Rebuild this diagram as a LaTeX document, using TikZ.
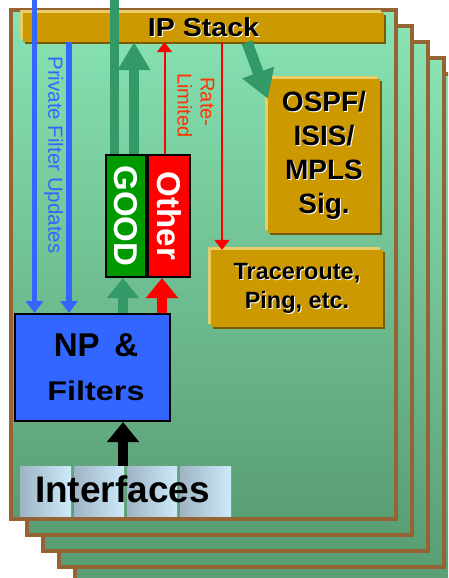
\documentclass[tikz,border=0pt]{standalone}
\usepackage{fontspec}
\usepackage{graphicx}
\setmainfont{Liberation Sans}
\usetikzlibrary{arrows.meta}
\definecolor{framebrown}{RGB}{150,100,52}
\definecolor{minttop}{RGB}{136,228,180}
\definecolor{mintbot}{RGB}{90,158,116}
\definecolor{gold}{RGB}{204,153,0}
\definecolor{goldlt}{RGB}{232,204,104}
\definecolor{golddk}{RGB}{120,90,0}
\definecolor{grn}{RGB}{51,153,102}
\definecolor{npblue}{RGB}{51,102,255}
\definecolor{goodgreen}{RGB}{0,153,0}
\definecolor{ratetext}{RGB}{255,51,0}
\definecolor{ifl}{RGB}{158,180,196}
\definecolor{ifr}{RGB}{204,234,250}
\newcommand\shd[1]{\leavevmode\rlap{\hspace{1pt}\raisebox{-1pt}{\color{white}#1}}#1}
\tikzset{
  frame/.style={draw=framebrown, line width=4pt, top color=minttop, bottom color=mintbot},
  goldbox/.style={fill=gold, inner sep=0pt, align=center, text=black,
    preaction={fill=goldlt, transform canvas={shift={(-3pt,3pt)}}},
    preaction={fill=golddk, transform canvas={shift={(2pt,-2pt)}}}},
  labelbox/.style={draw=black, line width=2pt, inner sep=0pt, text=white,
    font=\bfseries\fontsize{33}{33}\selectfont, minimum height=122pt},
  npbox/.style={draw=black, line width=2pt, fill=npblue, inner sep=0pt, align=center,
    minimum width=155pt, minimum height=107pt},
  tile/.style={left color=ifl, right color=ifr, inner sep=0pt, minimum height=50pt},
  fatup/.style={line width=10pt, -{Triangle[width=31pt,length=28pt]}},
  fatshort/.style={line width=10pt, -{Triangle[width=31pt,length=20pt]}},
  thinred/.style={draw=red, line width=2pt, -{Triangle[width=15pt,length=10pt]}},
  blueln/.style={draw=npblue, line width=5.5pt},
  bluearrow/.style={blueln, -{Triangle[width=17pt,length=12pt]}},
}
\begin{document}
\begin{tikzpicture}[x=1pt,y=-1pt]
\useasboundingbox (0,0) rectangle (448,578);
\clip (0,0) rectangle (448,578);
\fill[white] (0,0) rectangle (448,578);
% stacked frames
\foreach \k in {4,3,2,1,0}{
  \draw[frame] ({10.5+16*\k},{10+16*\k}) rectangle ++(385,508.5);
}
% helper coordinates
\coordinate (b1) at (34.5,-5);
\coordinate (b2) at (69,0);
\coordinate (gl) at (114.5,-5);
\coordinate (gu) at (134,0);
\coordinate (gx) at (123,0);
\coordinate (rx) at (162,0);
\coordinate (ro) at (164.5,0);
\coordinate (rt) at (222,0);
% boxes
\node[goldbox, minimum width=361pt, minimum height=29pt,
  font=\bfseries\fontsize{26}{30}\selectfont] (ip) at (203.5,27.5) {\shd{\scalebox{1.1}[1]{IP Stack}}};
\node[goldbox, minimum width=112pt, minimum height=154pt,
  font=\bfseries\fontsize{28}{34}\selectfont] (ospf) at (324,156)
  {\shd{OSPF/}\\\shd{ISIS/}\\\shd{MPLS}\\\shd{Sig.}};
\node[goldbox, minimum width=172pt, minimum height=77pt,
  font=\bfseries\fontsize{23.5}{29}\selectfont] (trace) at (297,288.5)
  {\shd{Traceroute,}\\\shd{Ping, etc.}};
\node[labelbox, fill=goodgreen, minimum width=40pt] (good) at (126,216) {\rotatebox{-90}{GOOD}};
\node[labelbox, fill=red, minimum width=42pt] (other) at (169,216) {\rotatebox{-90}{Other}};
\node[npbox, font=\bfseries\fontsize{33}{44}\selectfont] (np) at (92.5,367.5)
  {\hspace*{7pt}NP \,\&\\\hspace*{7pt}{\fontsize{27}{44}\selectfont\scalebox{1.2}[1]{Filters}}};
\node[tile, minimum width=51pt] (if1) at (45.5,491) {};
\node[tile, minimum width=50pt] (if2) at (99,491) {};
\node[tile, minimum width=50pt] (if3) at (152,491) {};
\node[tile, minimum width=51pt] (if4) at (205.5,491) {};
% connectors
\draw[bluearrow] (b1) -- (np.north -| b1);
\draw[bluearrow] (ip.south -| b2) -- (np.north -| b2);
\draw[draw=grn, line width=9pt] (good.north -| gl) -- (gl);
\draw[fatup, draw=grn] (good.north -| gu) -- (ip.south -| gu);
\draw[thinred] (other.north -| ro) -- (ip.south -| ro);
\draw[thinred] (ip.south -| rt) -- (trace.north -| rt);
\draw[draw=grn, line width=11pt, -{Triangle[width=32pt,length=28pt]}]
  ([xshift=43.5pt]ip.south) -- ([yshift=-20pt]ospf.north west);
\draw[fatshort, draw=grn] (np.north -| gx) -- (good.south -| gx);
\draw[fatshort, draw=red] (np.north -| rx) -- (other.south -| rx);
\draw[fatshort, draw=black] (if2.north -| gx) -- (np.south -| gx);
% texts
\node[anchor=base, inner sep=0pt, font=\bfseries\fontsize{37}{40}\selectfont] (iftext) at (122.5,502) {Interfaces};
\node[anchor=base, rotate=-90, inner sep=0pt, text=npblue, font=\fontsize{20.5}{24}\selectfont] (pfu) at (48.3,155) {Private Filter Updates};
\node[anchor=base, rotate=-90, inner sep=0pt, text=ratetext, font=\fontsize{20}{23}\selectfont] (rate) at (200.7,102) {Rate-};
\node[anchor=base, rotate=-90, inner sep=0pt, text=ratetext, font=\fontsize{20}{23}\selectfont] (lim) at (177.7,105.5) {Limited};
\end{tikzpicture}
\end{document}
